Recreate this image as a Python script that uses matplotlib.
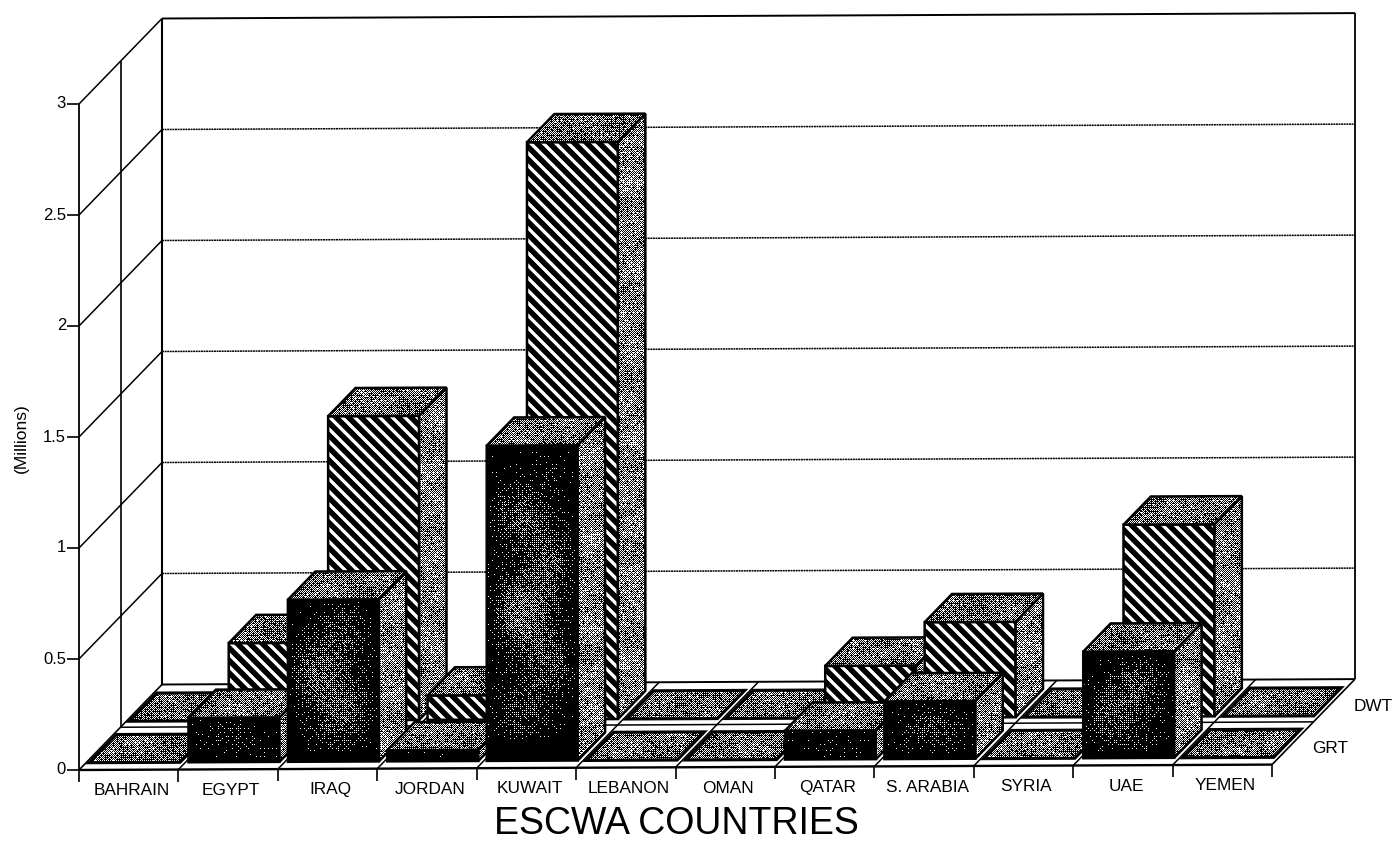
import numpy as np
import matplotlib
matplotlib.use("Agg")
import matplotlib.pyplot as plt
from matplotlib.patches import Polygon

plt.rcParams['font.family'] = ['Liberation Sans', 'DejaVu Sans']

# Merchant fleet tonnage, millions
countries = ["BAHRAIN", "EGYPT", "IRAQ", "JORDAN", "KUWAIT", "LEBANON",
             "OMAN", "QATAR", "S. ARABIA", "SYRIA", "UAE", "YEMEN"]
grt = [0, 0.20, 0.73, 0.05, 1.42, 0, 0, 0.13, 0.26, 0, 0.48, 0]
dwt = [0, 0.35, 1.37, 0.11, 2.60, 0, 0, 0.235, 0.43, 0, 0.865, 0]
value_ticks = [0, 0.5, 1, 1.5, 2, 2.5, 3]
value_labels = ["0", "0.5", "1", "1.5", "2", "2.5", "3"]

# Oblique projection of (category, value, depth) on to the canvas
X0, Y0 = 79.0, 770.0
CX, CY = 99.42, -0.45
DX, DY = 83.0, -85.5
VS = 222.0
BAR_C0, BAR_W = 0.03, 0.915
BAR_D = 0.33
ROW_D = {"GRT": 0.085, "DWT": 0.57}


def project(c, v=0.0, d=0.0):
    return (X0 + c * CX + d * DX, Y0 + c * CY + d * DY - v * VS)


fig = plt.figure(figsize=(13.94, 8.43), dpi=100)
ax = fig.add_axes([0, 0, 1, 1])
W, H = 1394, 843

_b = np.array([[0, 8, 2, 10], [12, 4, 14, 6], [3, 11, 1, 9], [15, 7, 13, 5]]) / 16 + 1 / 32


def grain(xx, yy):
    """Halftone threshold: an ordered matrix roughened by a sine hash."""
    h = np.sin(xx * 12.9898 + yy * 78.233) * 43758.5453
    h = h - np.floor(h)
    return 0.7 * _b[yy % 4, xx % 4] + 0.3 * h


def gray_level(xx, yy, base):
    level = base + 0.06 * np.sin(xx / 13.0 + yy / 29.0) * np.cos(yy / 9.0 - xx / 37.0)
    return (level > grain(xx, yy)).astype(float)


def top_pattern(xx, yy, u, v):
    return gray_level(xx, yy, 0.44)


def side_pattern(xx, yy, u, v):
    return gray_level(xx, yy, 0.50)


def dark_pattern(xx, yy, u, v):
    tall = min(1.0, (yy.max() - yy.min()) / 120.0)
    level = 0.03 + tall * 0.34 * np.sin(np.pi * u) ** 0.8 * np.sin(np.pi * v) ** 0.8
    level = level * (1 + 0.35 * np.sin(yy / 17.0) * np.cos(xx / 23.0))
    level = np.where(v > 0.93, 0.0, level)
    return (level > grain(xx, yy)).astype(float)


def stripe_pattern(xx, yy, u, v):
    period = 12.5
    phase = np.mod(xx - yy, period)
    return np.clip(np.abs(phase - period / 2) - 3.4, 0, 1)


def face(verts, pattern, z, lw=1.5):
    verts = np.asarray(verts, float)
    x0, y0 = np.floor(verts.min(axis=0)).astype(int)
    x1, y1 = np.ceil(verts.max(axis=0)).astype(int)
    x1, y1 = max(x1, x0 + 1), max(y1, y0 + 1)
    xx, yy = np.meshgrid(np.arange(x0, x1), np.arange(y0, y1))
    u = (xx - x0 + 0.5) / (x1 - x0)
    v = (yy - y0 + 0.5) / (y1 - y0)
    im = ax.imshow(pattern(xx, yy, u, v), cmap="gray", vmin=0, vmax=1,
                   extent=(x0, x1, y1, y0), interpolation="nearest",
                   aspect="auto", zorder=z)
    clip = Polygon(verts, closed=True, transform=ax.transData)
    im.set_clip_path(clip)
    ax.add_patch(Polygon(verts, closed=True, fill=False, ec="black", lw=lw,
                         joinstyle="miter", zorder=z + 0.1))


def bar(c, value, row, pattern, z):
    c0, c1 = c + BAR_C0, c + BAR_C0 + BAR_W
    d0 = ROW_D[row]
    d1 = d0 + BAR_D
    if value <= 0:
        face([project(c0, 0, d0), project(c1, 0, d0),
              project(c1, 0, d1), project(c0, 0, d1)], top_pattern, z, lw=2.2)
        return
    face([project(c0, 0, d0), project(c1, 0, d0),
          project(c1, value, d0), project(c0, value, d0)], pattern, z, lw=1.8)
    face([project(c1, 0, d0), project(c1, 0, d1),
          project(c1, value, d1), project(c1, value, d0)], side_pattern, z + 0.2, lw=1.8)
    face([project(c0, value, d0), project(c1, value, d0),
          project(c1, value, d1), project(c0, value, d1)], top_pattern, z + 0.4, lw=1.8)


def seg(a, b, lw=1.1, ls="-", z=2):
    ax.plot([a[0], b[0]], [a[1], b[1]], color="black", lw=lw, ls=ls,
            solid_capstyle="butt", zorder=z)


n = len(countries)
top = value_ticks[-1]

# Back wall and side wall
seg(project(0, 0, 1), project(0, top, 1), lw=1.5)
seg(project(n, 0, 1), project(n, top, 1), lw=1.3)
seg(project(0, 0, 0), project(0, top, 0), lw=1.3)
seg(project(0, 0, 0.5), project(0, top, 0.5), lw=1.2)
seg(project(0, top, 1), project(n, top, 1), lw=1.4)
for t in value_ticks[1:]:
    seg(project(0, t, 0), project(0, t, 1), lw=1.1)
    if t != top:
        seg(project(0, t, 1), project(n, t, 1), lw=1.1, ls=(0, (1.3, 0.4)))

# Floor outline, row divider and category dividers
seg(project(0, 0, 0), project(n, 0, 0), lw=1.7)
seg(project(0, 0, 1), project(n, 0, 1), lw=1.4)
seg(project(n, 0, 0), project(n, 0, 1), lw=1.2)
seg(project(0, 0, 0), project(0, 0, 1), lw=1.2)
seg(project(0, 0, 0.5), project(n, 0, 0.5), lw=1.1)
for c in range(1, n):
    seg(project(c, 0, 0), project(c, 0, 1), lw=1.1)

# Axis ticks and labels
for t, lab in zip(value_ticks, value_labels):
    px, py = project(0, t, 0)
    seg((px - 12, py), (px, py), lw=1.2)
    ax.text(px - 13, py, lab, ha="right", va="center", fontsize=12, zorder=5)
for c in range(n + 1):
    px, py = project(c, 0, 0)
    seg((px, py), (px, py + 12), lw=1.2)
for c, name in enumerate(countries):
    px, py = project(c + 0.53, 0, 0)
    ax.text(px, py + 21, name, ha="center", va="center", fontsize=12.4, zorder=5)

px, py = project(n, 0, 0.27)
ax.text(px + 18, py + 7, "GRT", ha="left", va="center", fontsize=12.4, zorder=5)
px, py = project(n, 0, 0.77)
ax.text(px + 18, py + 8, "DWT", ha="left", va="center", fontsize=12.4, zorder=5)

ax.text(21, 438, "(Millions)", rotation=90, ha="center", va="center", fontsize=12.5, zorder=5)
ax.text(676, 842, "ESCWA COUNTRIES", ha="center", va="bottom", fontsize=27, zorder=5)

# Back row first so the front row overlaps it
z = 10
for c, val in enumerate(dwt):
    bar(c, val, "DWT", stripe_pattern, z)
    z += 1
for c, val in enumerate(grt):
    bar(c, val, "GRT", dark_pattern, z)
    z += 1

ax.set_xlim(0, W)
ax.set_ylim(H, 0)
ax.axis("off")
fig.savefig("out.png", dpi=100, facecolor="white")
